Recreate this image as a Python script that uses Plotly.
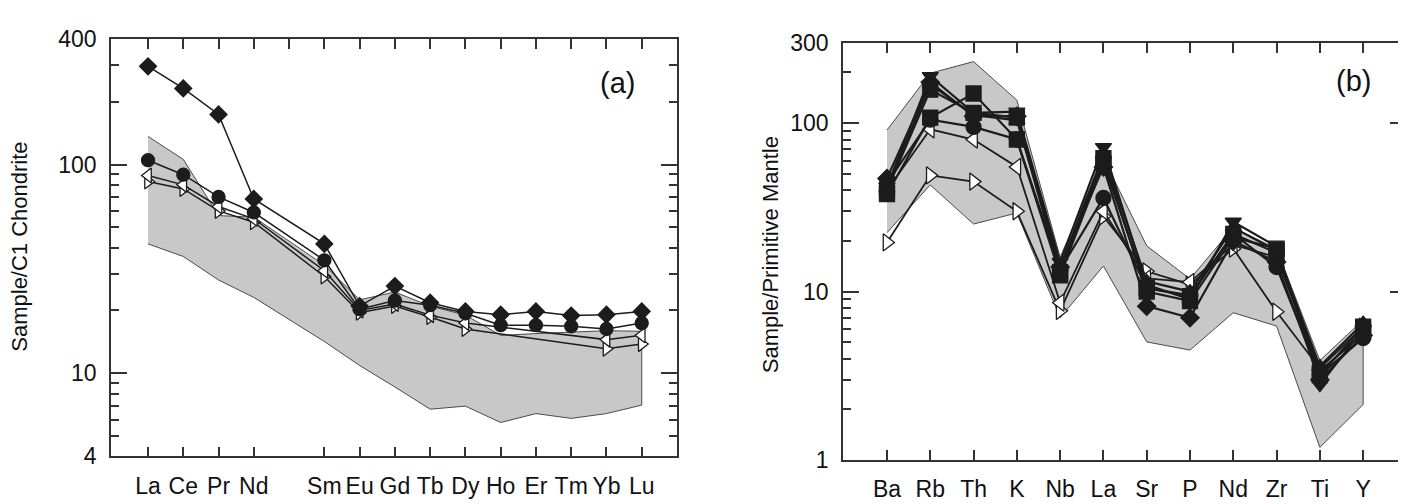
import plotly.graph_objects as go

# ---------------- Panel (a): REE, chondrite-normalised ----------------
ree = ["La", "Ce", "Pr", "Nd", "Pm", "Sm", "Eu", "Gd", "Tb", "Dy", "Ho", "Er", "Tm", "Yb", "Lu"]
a_diamond = [296, 232, 174, 68.5, None, 41.7, 21.0, 26.2, 21.8, 19.8, 19.1, 19.8, 18.9, 19.1, 19.8]
a_circle = [105, 89.5, 70, 59, None, 34.8, 20.3, 22.3, 21.2, 19.4, 17.0, 17.0, 16.8, 16.3, 17.4]
a_tri_left = [88.7, 80, 63, 55, None, 31, 20.0, 21.5, 19.0, 17.4, None, None, None, 14.5, 15.2]
a_tri_right = [83, 76.5, 60, 53, None, 29.1, 19.5, 21.0, 18.6, 16.3, None, None, None, 13.1, 13.8]
a_field_upper = [136.5, 106, 57, 56, None, 33, 22.5, 24.5, 21, 19, 15.2, 15.5, 15.8, 16, 15.9]
a_field_lower = [41.7, 36.3, 28, 23.1, None, 14.2, 10.9, 8.6, 6.73, 6.96, 5.81, 6.41, 6.08, 6.41, 7.04]

# ---------------- Panel (b): spider diagram, primitive-mantle normalised ----------------
spider = ["Ba", "Rb", "Th", "K", "Nb", "La", "Sr", "P", "Nd", "Zr", "Ti", "Y"]
b_square1 = [38, 108, 150, 80, 12.5, 58, 10.5, 9.4, 22, 17, 3.3, 5.8]
b_square2 = [40, 158, 115, 108, 13, 62, 10.0, 8.8, 21, 18, 3.2, 6.2]
b_circle = [44, 105, 95, 80, 13.5, 36, 10.5, 9.5, 22, 14, 3.2, 5.3]
b_diamond = [47, 175, 110, 110, 14, 55, 8.2, 7.0, 20, 15, 3.0, 5.5]
b_tri_down = [42, 190, 115, 117, 15, 72, 11, 9.0, 26, 18.5, 2.8, 6.0]
b_tri_up = [41, 170, 112, 104, 14, 65, 11.5, 10, 24, 17.5, 3.6, 6.5]
b_tri_left = [40, 92, 80, 55, 8.6, 30, 12, 11.4, 19, 16, 3.4, 5.6]
b_tri_right = [19.6, 49, 45, 30, 7.7, 28, 13.2, 11.0, 18, 7.6, 3.5, 6.2]
b_field_upper = [91, 198, 232, 137, 16, 62, 18.7, 11.9, 24, 18, 3.9, 6.8]
b_field_lower = [22.4, 43, 25.2, 29.3, 7.0, 14.2, 5.03, 4.5, 7.5, 6.25, 1.19, 2.14]

DARK = "#1c1c1c"
FONT = "Liberation Sans, Arial, sans-serif"

fig = go.Figure()


def field(up, lo, xa, ya):
    px = [i for i, v in enumerate(up) if v is not None]
    polx = px + px[::-1]
    poly = [up[i] for i in px] + [lo[i] for i in px[::-1]]
    fig.add_trace(go.Scatter(x=polx, y=poly, mode="lines", fill="toself",
                             fillcolor="#c8c8c8", line=dict(color="#4a4a4a", width=1),
                             xaxis=xa, yaxis=ya, hoverinfo="skip", showlegend=False))


def series(vals, symbol, filled, xa, ya, size, lw):
    xs = list(range(len(vals)))
    fig.add_trace(go.Scatter(
        x=xs, y=vals, mode="lines+markers", connectgaps=True,
        line=dict(color=DARK, width=lw),
        marker=dict(symbol=symbol, size=size,
                    color=DARK if filled else "white",
                    line=dict(color=DARK, width=1.3)),
        xaxis=xa, yaxis=ya, showlegend=False))


# panel a
field(a_field_upper, a_field_lower, "x", "y")
series(a_tri_right, "triangle-right", False, "x", "y", 13, 1.5)
series(a_tri_left, "triangle-left", False, "x", "y", 13, 1.5)
series(a_circle, "circle", True, "x", "y", 13, 1.5)
series(a_diamond, "diamond", True, "x", "y", 13, 1.5)

# panel b
field(b_field_upper, b_field_lower, "x2", "y2")
series(b_tri_right, "triangle-right", False, "x2", "y2", 15, 1.8)
series(b_tri_left, "triangle-left", False, "x2", "y2", 15, 1.8)
series(b_circle, "circle", True, "x2", "y2", 15, 2.2)
series(b_diamond, "diamond", True, "x2", "y2", 14, 2.2)
series(b_square1, "square", True, "x2", "y2", 15, 2.2)
series(b_square2, "square", True, "x2", "y2", 15, 2.2)
series(b_tri_up, "triangle-up", True, "x2", "y2", 14, 2.2)
series(b_tri_down, "triangle-down", True, "x2", "y2", 14, 2.2)

# empty trace to hold the top tick axis of panel a (includes Pm)
fig.add_trace(go.Scatter(x=[None], y=[None], xaxis="x3", yaxis="y", showlegend=False))

W, H = 1406, 504
ax_common = dict(showline=True, linecolor="#333", linewidth=1.5, showgrid=False,
                 zeroline=False, tickfont=dict(family=FONT, size=23, color="#111"),
                 tickcolor="#333", tickwidth=1.5)

a_tick_idx = [i for i, n in enumerate(ree) if n != "Pm"]
fig.update_layout(
    width=W, height=H, margin=dict(l=0, r=0, t=0, b=0),
    paper_bgcolor="white", plot_bgcolor="white", showlegend=False,
    font=dict(family=FONT, color="#111"),
    xaxis=dict(domain=[103 / W, 669 / W], anchor="y", range=[-1.05, 15.0],
               tickmode="array", tickvals=a_tick_idx, ticktext=[ree[i] for i in a_tick_idx],
               ticks="inside", ticklen=10, mirror=True, ticklabelstandoff=8, **ax_common),
    xaxis3=dict(overlaying="x", anchor="y", side="top", range=[-1.05, 15.0],
                tickmode="array", tickvals=list(range(len(ree))), showticklabels=False,
                ticks="inside", ticklen=10, showline=False, showgrid=False, zeroline=False,
                tickcolor="#333", tickwidth=1.5),
    yaxis=dict(domain=[1 - 459 / H, 1 - 19 / H], anchor="x", type="log",
               range=[0.60206, 2.60206], tickmode="array", tickvals=[4, 10, 100, 400],
               ticktext=["4", "10", "100", "400"], ticks="inside", ticklen=16,
               mirror="ticks", ticklabelstandoff=8,
               minor=dict(tickmode="array", tickvals=[5, 6, 7, 8, 9, 20, 30, 40, 50, 60, 70, 80, 90, 200, 300],
                          ticks="inside", ticklen=8, tickcolor="#333", tickwidth=1.5),
               **ax_common),
    xaxis2=dict(domain=[835 / W, 1398 / W], anchor="y2", range=[-1.016, 11.99],
                tickmode="array", tickvals=list(range(len(spider))), ticktext=spider,
                ticks="inside", ticklen=10, mirror="ticks", ticklabelstandoff=8, **ax_common),
    yaxis2=dict(domain=[1 - 463 / H, 1 - 23 / H], anchor="x2", type="log",
                range=[0, 2.4771], tickmode="array", tickvals=[1, 10, 100, 300],
                ticktext=["1", "10", "100", "300"], ticks="inside", ticklen=16,
                mirror="ticks", ticklabelstandoff=8,
                minor=dict(tickmode="array", tickvals=[2, 3, 4, 5, 6, 7, 8, 9, 20, 30, 40, 50, 60, 70, 80, 90, 200],
                           ticks="inside", ticklen=8, tickcolor="#333", tickwidth=1.5),
                **ax_common),
    annotations=[
        dict(text="Sample/C1 Chondrite", x=12 / W, y=1 - 238 / H, xref="paper", yref="paper",
             xanchor="center", yanchor="middle",
             textangle=-90, showarrow=False, font=dict(family=FONT, size=22, color="#111")),
        dict(text="Sample/Primitive Mantle", x=762 / W, y=1 - 247 / H, xref="paper", yref="paper",
             xanchor="center", yanchor="middle",
             textangle=-90, showarrow=False, font=dict(family=FONT, size=22, color="#111")),
        dict(text="(a)", x=609 / W, y=1 - 65 / H, xref="paper", yref="paper",
             xanchor="center", yanchor="middle",
             showarrow=False, font=dict(family=FONT, size=29, color="#111")),
        dict(text="(b)", x=1345 / W, y=1 - 63 / H, xref="paper", yref="paper",
             xanchor="center", yanchor="middle",
             showarrow=False, font=dict(family=FONT, size=29, color="#111")),
    ],
)

fig.write_html("out.html")
